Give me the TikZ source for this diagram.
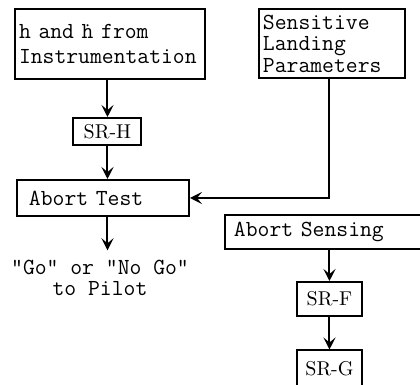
\documentclass[tikz,border=0pt]{standalone}
\usepackage{tikz}
\usetikzlibrary{arrows.meta}

\begin{document}
\begin{tikzpicture}[x=0.5pt,y=-0.5pt,
            every node/.style={draw,line width=1pt,inner sep=2pt},
            box/.style={font=\ttfamily\fontsize{11.5}{12.5}\selectfont,
                align=left, anchor=north west},
            sr/.style={font=\rmfamily\fontsize{10}{12}\selectfont},
            note/.style={draw=none,font=\ttfamily\fontsize{11.5}{10.5}\selectfont,
                align=center},
            flow/.style={line width=1pt,
                -{Stealth[length=6pt,width=6pt,inset=2.5pt]}}]
            \useasboundingbox (0,0) rectangle (420,385);

            % left column
            \node[box,text width=91pt,minimum height=35pt] (instr) at (14,8)
                {h and \.{h} from\\Instrumentation};
            \node[sr,minimum width=34pt,minimum height=13.5pt] (srh) at (107.5,131.5) {SR-H};
            \node[box,text width=74pt,inner xsep=6pt,minimum height=18pt] (test) at (16,179)
                {Abort Test};
            \node[note] (go) at (100,278) {"Go" or "No Go"\\to Pilot};

            % right column
            \node[box,text width=69pt,minimum height=34.5pt,
                font=\ttfamily\fontsize{11.5}{10.75}\selectfont] (slp) at (258,8)
                {Sensitive\\Landing\\Parameters};
            \node[box,text width=110pt,inner xsep=4.5pt,minimum height=17pt] (sensing) at (224,214)
                {Abort Sensing};
            \node[sr,minimum width=32.5pt,minimum height=17pt] (srf) at (329.5,299) {SR-F};
            \node[sr,minimum width=32.5pt,minimum height=18pt] (srg) at (329.5,368.5) {SR-G};

            \draw[flow] (srh.north |- instr.south) -- (srh.north);
            \draw[flow] (srh.south) -- (srh.south |- test.north);
            \draw[flow,shorten >=2.5pt] (srh |- test.south) -- (srh |- go.north);
            \draw[flow] (slp.south -| srf) |- (test.east);
            \draw[flow] (srf |- sensing.south) -- (srf);
            \draw[flow] (srf) -- (srg);

        \end{tikzpicture}
\end{document}
